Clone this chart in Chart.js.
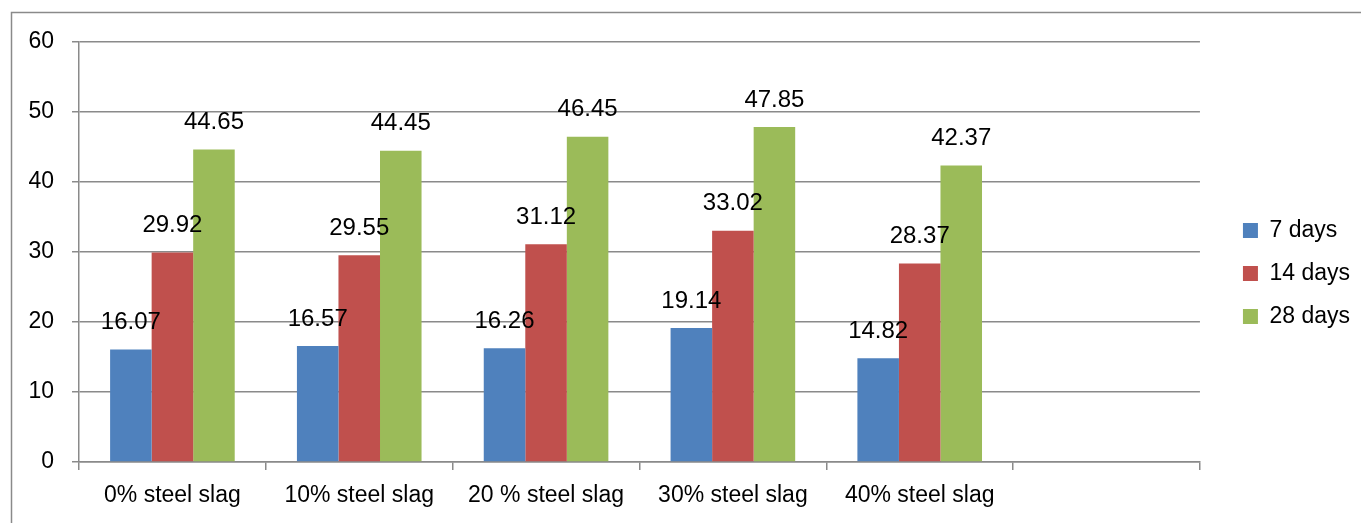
<!DOCTYPE html>
<html>
<head>
<meta charset="utf-8">
<script src="https://cdn.jsdelivr.net/npm/chart.js@4.4.0/dist/chart.umd.min.js"></script>
<style>
  html, body { margin: 0; padding: 0; background: #fff; }
  #wrap { width: 1361px; height: 523px; position: relative; }
</style>
</head>
<body>
<div id="wrap"><canvas id="strengthChart" width="1361" height="523"></canvas></div>
<script>
// categories (last slot is empty, as in the original sheet)
const categories = ['0% steel slag', '10% steel slag', '20 % steel slag', '30% steel slag', '40% steel slag', ''];
const days7 = [16.07, 16.57, 16.26, 19.14, 14.82, null];
const days14 = [29.92, 29.55, 31.12, 33.02, 28.37, null];
const days28 = [44.65, 44.45, 46.45, 47.85, 42.37, null];
const yTicks = [0, 10, 20, 30, 40, 50, 60];

const FONT = 'Liberation Sans, Arial, sans-serif';
const gridGray = '#8a8a8a';

// draws the value above each bar
const valueLabels = {
    id: 'valueLabels',
    afterDatasetsDraw(chart) {
        const ctx = chart.ctx;
        ctx.save();
        ctx.font = '24px ' + FONT;
        ctx.fillStyle = '#000';
        ctx.textAlign = 'center';
        ctx.textBaseline = 'middle';
        chart.data.datasets.forEach((ds, i) => {
            chart.getDatasetMeta(i).data.forEach((bar, j) => {
                if (ds.data[j] == null) return;
                ctx.fillText(ds.data[j].toFixed(2), bar.x, bar.y - 27);
            });
        });
        ctx.restore();
    }
};

// the outer frame of the chart object
const frame = {
    id: 'frame',
    beforeDraw(chart) {
        const ctx = chart.ctx;
        ctx.save();
        ctx.strokeStyle = gridGray;
        ctx.lineWidth = 1.5;
        ctx.beginPath();
        ctx.moveTo(11.5, 600);
        ctx.lineTo(11.5, 12.5);
        ctx.lineTo(1400, 12.5);
        ctx.stroke();
        ctx.restore();
    }
};

// nudge the legend a little right of the plot and up
const legendNudge = {
    id: 'legendNudge',
    afterLayout(chart) {
        const lg = chart.legend;
        lg.left += 23; lg.right += 23;
        lg.top -= 9; lg.bottom -= 9;
    }
};

new Chart(document.getElementById('strengthChart'), {
    type: 'bar',
    data: {
        labels: categories,
        datasets: [
            { label: '7 days', data: days7, backgroundColor: '#4F81BD' },
            { label: '14 days', data: days14, backgroundColor: '#C0504D' },
            { label: '28 days', data: days28, backgroundColor: '#9BBB59' }
        ]
    },
    options: {
        responsive: false,
        animation: false,
        categoryPercentage: 0.667,
        barPercentage: 1.0,
        layout: { padding: { left: 0, top: 42, right: 24, bottom: 0 } },
        plugins: {
            tooltip: { enabled: false },
            legend: {
                position: 'right',
                labels: {
                    boxWidth: 15,
                    boxHeight: 15,
                    padding: 20,
                    color: '#000',
                    font: { family: FONT, size: 23 }
                }
            }
        },
        scales: {
            x: {
                grid: { drawOnChartArea: false, tickLength: 8, color: gridGray, lineWidth: 1.5 },
                border: { color: gridGray, width: 1.5 },
                ticks: { color: '#000', padding: 12, font: { family: FONT, size: 23 } },
                afterFit(scale) { scale.height = 61; }
            },
            y: {
                min: 0,
                max: 60,
                afterBuildTicks(scale) { scale.ticks = yTicks.map(v => ({ value: v })); },
                grid: { tickLength: 7, color: gridGray, lineWidth: 1.5 },
                border: { color: gridGray, width: 1.5 },
                ticks: { color: '#000', padding: 18, font: { family: FONT, size: 23 } },
                afterFit(scale) { scale.width = 79; }
            }
        }
    },
    plugins: [frame, valueLabels, legendNudge]
});
</script>
</body>
</html>
